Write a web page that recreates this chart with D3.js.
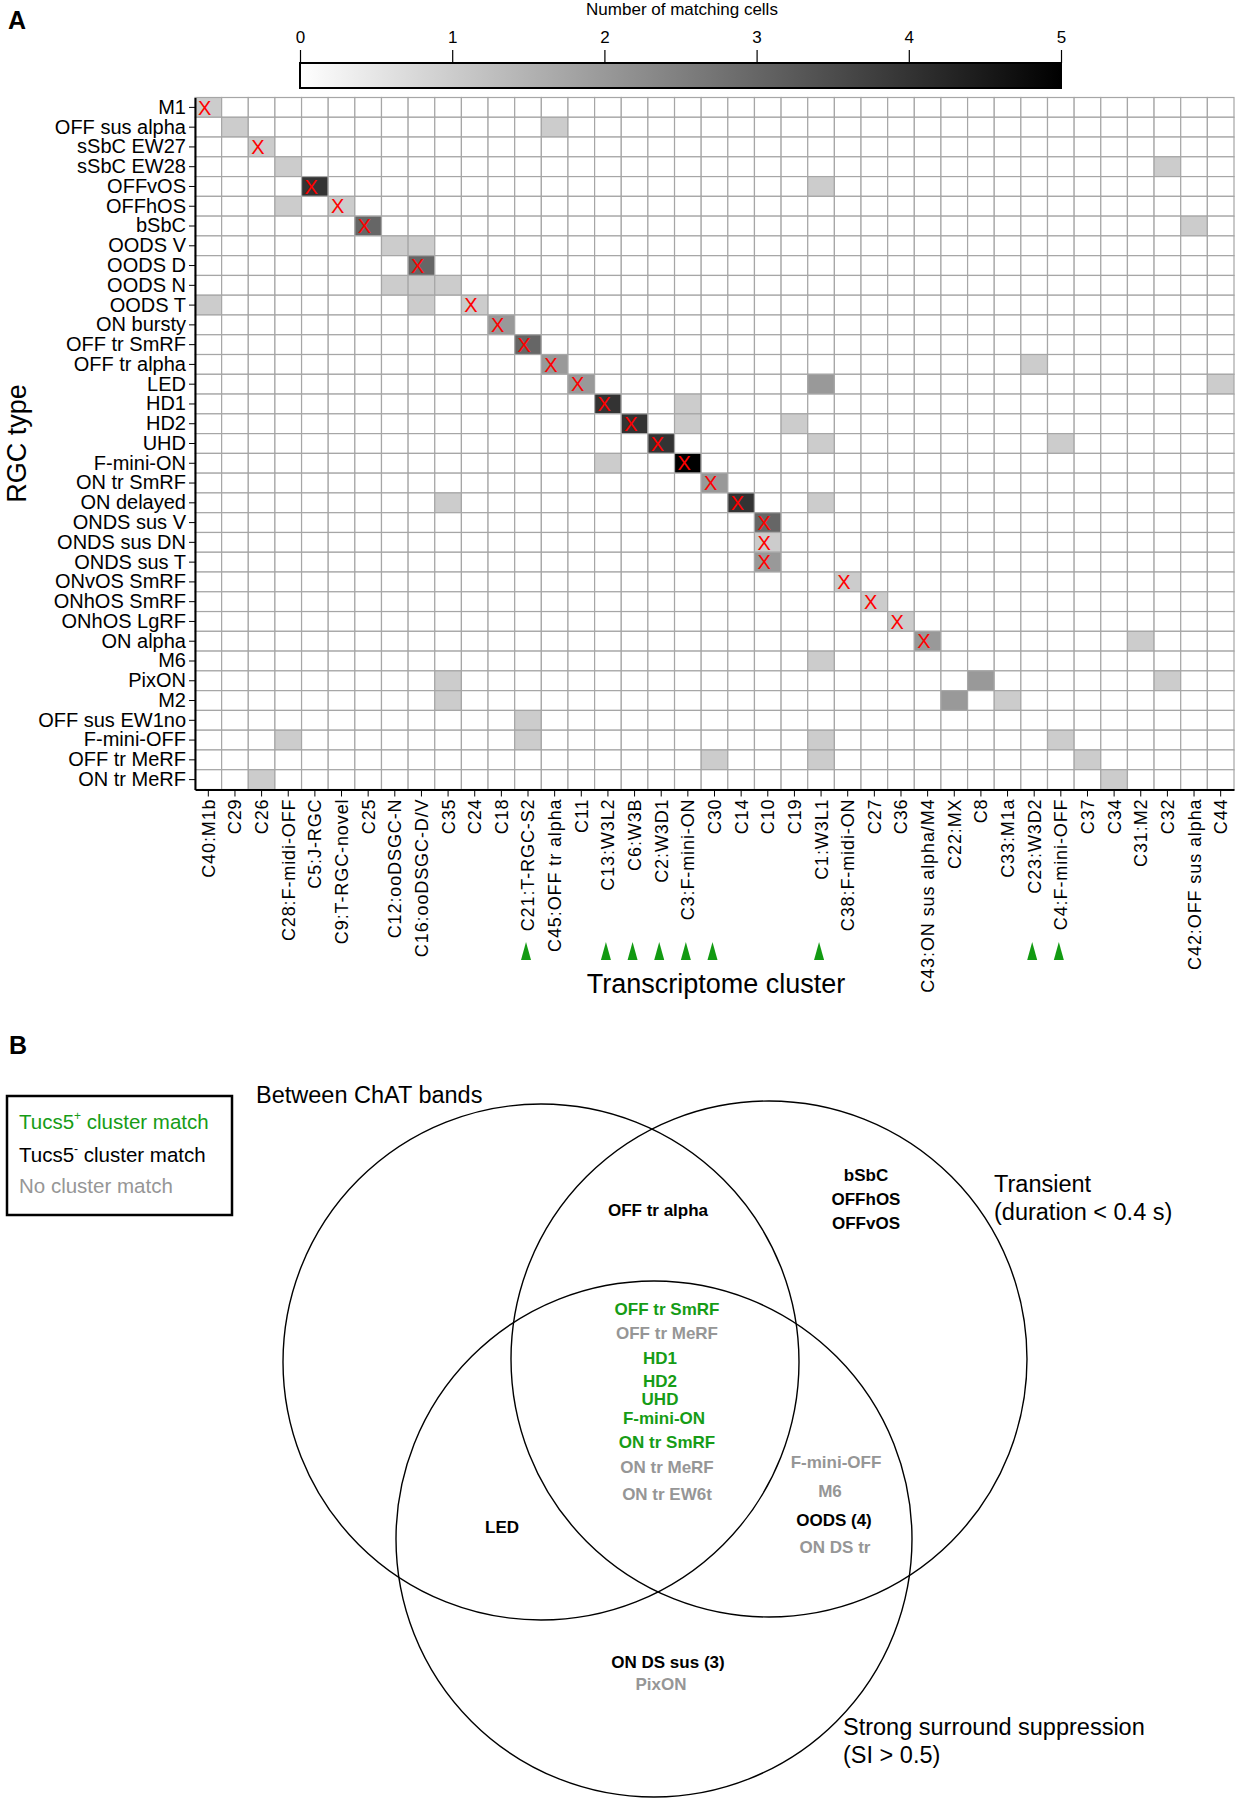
<!DOCTYPE html>
<html><head><meta charset="utf-8">
<script src="https://cdn.jsdelivr.net/npm/d3@7"></script>
<style>
body{margin:0;background:#fff}
svg{display:block}
text{font-family:"Liberation Sans",Arial,Helvetica,sans-serif}
</style>
</head><body>
<svg id="fig" width="1236" height="1800"></svg>
<script>
// ---------------- DATA ----------------
const rgcTypes = ["M1","OFF sus alpha","sSbC EW27","sSbC EW28","OFFvOS","OFFhOS","bSbC","OODS V","OODS D","OODS N","OODS T","ON bursty","OFF tr SmRF","OFF tr alpha","LED","HD1","HD2","UHD","F-mini-ON","ON tr SmRF","ON delayed","ONDS sus V","ONDS sus DN","ONDS sus T","ONvOS SmRF","ONhOS SmRF","ONhOS LgRF","ON alpha","M6","PixON","M2","OFF sus EW1no","F-mini-OFF","OFF tr MeRF","ON tr MeRF"];

const clusters = ["C40:M1b","C29","C26","C28:F-midi-OFF","C5:J-RGC","C9:T-RGC-novel","C25","C12:ooDSGC-N","C16:ooDSGC-D/V","C35","C24","C18","C21:T-RGC-S2","C45:OFF tr alpha","C11","C13:W3L2","C6:W3B","C2:W3D1","C3:F-mini-ON","C30","C14","C10","C19","C1:W3L1","C38:F-midi-ON","C27","C36","C43:ON sus alpha/M4","C22:MX","C8","C33:M1a","C23:W3D2","C4:F-mini-OFF","C37","C34","C31:M2","C32","C42:OFF sus alpha","C44"];

// [RGC type, cluster, number of matching cells]; all other cells are 0
const matchCells = [
["M1","C40:M1b",1],
["OFF sus alpha","C29",1],["OFF sus alpha","C45:OFF tr alpha",1],
["sSbC EW27","C26",1],
["sSbC EW28","C28:F-midi-OFF",1],["sSbC EW28","C32",1],
["OFFvOS","C5:J-RGC",4],["OFFvOS","C1:W3L1",1],
["OFFhOS","C28:F-midi-OFF",1],["OFFhOS","C9:T-RGC-novel",1],
["bSbC","C25",3],["bSbC","C42:OFF sus alpha",1],
["OODS V","C12:ooDSGC-N",1],["OODS V","C16:ooDSGC-D/V",1],
["OODS D","C16:ooDSGC-D/V",3],
["OODS N","C12:ooDSGC-N",1],["OODS N","C16:ooDSGC-D/V",1],["OODS N","C35",1],
["OODS T","C40:M1b",1],["OODS T","C16:ooDSGC-D/V",1],["OODS T","C24",1],
["ON bursty","C18",2],
["OFF tr SmRF","C21:T-RGC-S2",3],
["OFF tr alpha","C45:OFF tr alpha",2],["OFF tr alpha","C23:W3D2",1],
["LED","C11",2],["LED","C1:W3L1",2],["LED","C44",1],
["HD1","C13:W3L2",4],["HD1","C3:F-mini-ON",1],
["HD2","C6:W3B",4],["HD2","C3:F-mini-ON",1],["HD2","C19",1],
["UHD","C2:W3D1",4],["UHD","C1:W3L1",1],["UHD","C4:F-mini-OFF",1],
["F-mini-ON","C13:W3L2",1],["F-mini-ON","C3:F-mini-ON",5],
["ON tr SmRF","C30",2],
["ON delayed","C35",1],["ON delayed","C14",4],["ON delayed","C1:W3L1",1],
["ONDS sus V","C10",3],
["ONDS sus DN","C10",1],
["ONDS sus T","C10",2],
["ONvOS SmRF","C38:F-midi-ON",1],
["ONhOS SmRF","C27",1],
["ONhOS LgRF","C36",1],
["ON alpha","C43:ON sus alpha/M4",2],["ON alpha","C31:M2",1],
["M6","C1:W3L1",1],
["PixON","C35",1],["PixON","C8",2],["PixON","C32",1],
["M2","C35",1],["M2","C22:MX",2],["M2","C33:M1a",1],
["OFF sus EW1no","C21:T-RGC-S2",1],
["F-mini-OFF","C28:F-midi-OFF",1],["F-mini-OFF","C21:T-RGC-S2",1],["F-mini-OFF","C1:W3L1",1],["F-mini-OFF","C4:F-mini-OFF",1],
["OFF tr MeRF","C30",1],["OFF tr MeRF","C1:W3L1",1],["OFF tr MeRF","C37",1],
["ON tr MeRF","C26",1],["ON tr MeRF","C34",1]
];

// best-match marks (red X)
const bestMatches = [
["M1","C40:M1b"],["sSbC EW27","C26"],["OFFvOS","C5:J-RGC"],["OFFhOS","C9:T-RGC-novel"],["bSbC","C25"],
["OODS D","C16:ooDSGC-D/V"],["OODS T","C24"],["ON bursty","C18"],["OFF tr SmRF","C21:T-RGC-S2"],
["OFF tr alpha","C45:OFF tr alpha"],["LED","C11"],["HD1","C13:W3L2"],["HD2","C6:W3B"],["UHD","C2:W3D1"],
["F-mini-ON","C3:F-mini-ON"],["ON tr SmRF","C30"],["ON delayed","C14"],["ONDS sus V","C10"],
["ONDS sus DN","C10"],["ONDS sus T","C10"],["ONvOS SmRF","C38:F-midi-ON"],["ONhOS SmRF","C27"],
["ONhOS LgRF","C36"],["ON alpha","C43:ON sus alpha/M4"]
];

// Tucs5+ clusters (green arrowheads)
const tucs5Clusters = ["C21:T-RGC-S2","C13:W3L2","C6:W3B","C2:W3D1","C3:F-mini-ON","C30","C1:W3L1","C23:W3D2","C4:F-mini-OFF"];

const colorTicks = [0,1,2,3,4,5];

// Venn sets
const vennSets = ["Between ChAT bands","Transient","Strong surround suppression"];
const vennSetSub = ["","(duration < 0.4 s)","(SI > 0.5)"];
// labels per region: [text, group]  group: "pos" Tucs5+ match, "neg" Tucs5- match, "none" no match
const regionChatTrans = [["OFF tr alpha","neg"]];
const regionTransOnly = [["bSbC","neg"],["OFFhOS","neg"],["OFFvOS","neg"]];
const regionAll = [["OFF tr SmRF","pos"],["OFF tr MeRF","none"],["HD1","pos"],["HD2","pos"],["UHD","pos"],["F-mini-ON","pos"],["ON tr SmRF","pos"],["ON tr MeRF","none"],["ON tr EW6t","none"]];
const regionTransSurr = [["F-mini-OFF","none"],["M6","none"],["OODS (4)","neg"],["ON DS tr","none"]];
const regionChatSurr = [["LED","neg"]];
const regionSurrOnly = [["ON DS sus (3)","neg"],["PixON","none"]];
const legendItems = [["Tucs5","+"," cluster match","pos"],["Tucs5","-"," cluster match","neg"],["No cluster match","","","none"]];

// ---------------- LAYOUT ----------------
const svg = d3.select("#fig");
const FONT = '"Liberation Sans",Arial,Helvetica,sans-serif';
const groupColor = {pos:"#169c16", neg:"#000", none:"#969696"};

const hm = {x0:195, x1:1234, y0:97.5, y1:789.5};
const x = d3.scaleBand().domain(clusters).range([hm.x0, hm.x1]);
const y = d3.scaleBand().domain(rgcTypes).range([hm.y0, hm.y1]);
const color = d3.scaleLinear().domain([0,5]).range(["#ffffff","#000000"]);

const lookup = new Map(matchCells.map(d => [d[0]+"|"+d[1], d[2]]));
const allCells = [];
rgcTypes.forEach(r => clusters.forEach(c => allCells.push({r, c, v: lookup.get(r+"|"+c) || 0})));

// panel letter A
svg.append("text").attr("x",8).attr("y",29).attr("font-size",25).attr("font-weight","bold").text("A");

// colorbar
const cb = {x0:300, x1:1061, y0:63, h:25};
const cbScale = d3.scaleLinear().domain([0,5]).range([cb.x0, cb.x1]);
const defs = svg.append("defs");
const grad = defs.append("linearGradient").attr("id","cbgrad");
grad.append("stop").attr("offset","0%").attr("stop-color",color(0));
grad.append("stop").attr("offset","100%").attr("stop-color",color(5));
svg.append("rect").attr("x",cb.x0).attr("y",cb.y0).attr("width",cb.x1-cb.x0).attr("height",cb.h)
  .attr("fill","url(#cbgrad)").attr("stroke","#000").attr("stroke-width",2);
const cbAxis = svg.append("g").attr("transform",`translate(0,${cb.y0})`)
  .call(d3.axisTop(cbScale).tickValues(colorTicks).tickFormat(d3.format("d")).tickSize(13).tickPadding(7));
cbAxis.select(".domain").remove();
cbAxis.selectAll("line").attr("stroke","#000").attr("stroke-width",1.2);
cbAxis.selectAll("text").attr("font-size",17).attr("font-family",FONT).attr("fill","#000");
svg.append("text").attr("x",682).attr("y",15).attr("text-anchor","middle").attr("font-size",17).text("Number of matching cells");

// heatmap cells
svg.append("g").selectAll("rect").data(allCells).join("rect")
  .attr("x", d => x(d.c)).attr("y", d => y(d.r))
  .attr("width", x.bandwidth()).attr("height", y.bandwidth())
  .attr("fill", d => color(d.v)).attr("stroke","#a6a6a6").attr("stroke-width",1.2);

// red X marks
svg.append("g").selectAll("text").data(bestMatches).join("text")
  .attr("x", d => x(d[1]) + x.bandwidth()*0.36)
  .attr("y", d => y(d[0]) + y.bandwidth()/2)
  .attr("dy","0.36em").attr("text-anchor","middle")
  .attr("font-size",20).attr("fill","#ff0000").text("X");

// axes
const yAxis = svg.append("g").attr("transform",`translate(${hm.x0},0)`)
  .call(d3.axisLeft(y).tickSize(6).tickPadding(3).tickSizeOuter(0));
yAxis.select(".domain").attr("stroke","#000").attr("stroke-width",2);
yAxis.selectAll("line").attr("stroke","#000").attr("stroke-width",1);
yAxis.selectAll("text").attr("font-size",20).attr("font-family",FONT).attr("fill","#000");

const xAxis = svg.append("g").attr("transform",`translate(0,${hm.y1})`)
  .call(d3.axisBottom(x).tickSize(7).tickSizeOuter(0));
xAxis.select(".domain").attr("stroke","#000").attr("stroke-width",2);
xAxis.selectAll("line").attr("stroke","#000").attr("stroke-width",1);
xAxis.selectAll("text").attr("font-size",18).attr("font-family",FONT).attr("fill","#000")
  .attr("letter-spacing","0.9px")
  .attr("text-anchor","end").attr("transform","rotate(-90)")
  .attr("x",-9).attr("y",0).attr("dy","0.36em");

// axis titles
svg.append("text").attr("transform",`translate(26,${(hm.y0+hm.y1)/2}) rotate(-90)`)
  .attr("text-anchor","middle").attr("font-size",27).text("RGC type");
svg.append("text").attr("x",716).attr("y",993).attr("text-anchor","middle").attr("font-size",27).text("Transcriptome cluster");

// green arrowheads
svg.append("g").selectAll("path").data(tucs5Clusters).join("path")
  .attr("transform", d => `translate(${x(d)+x.bandwidth()/2 - 2},942)`)
  .attr("d","M0,0 L5,18 L-5,18 Z").attr("fill","#129a12");

// ---------------- PANEL B ----------------
svg.append("text").attr("x",9).attr("y",1054).attr("font-size",25).attr("font-weight","bold").text("B");

// legend
svg.append("rect").attr("x",7).attr("y",1096).attr("width",225).attr("height",119)
  .attr("fill","none").attr("stroke","#000").attr("stroke-width",2.5);
const legBase = [1129,1162,1193];
legendItems.forEach((d,i) => {
  const t = svg.append("text").attr("x",19).attr("y",legBase[i]).attr("font-size",20.5).attr("fill",groupColor[d[3]]);
  t.append("tspan").text(d[0]);
  if (d[1]) t.append("tspan").attr("dy",-9).attr("font-size",12).text(d[1]);
  if (d[2]) t.append("tspan").attr("dy", d[1] ? 9 : 0).text(d[2]);
});

// circles
const circles = [{cx:541, cy:1362}, {cx:769, cy:1359}, {cx:654, cy:1539}];
const R = 258;
svg.append("g").selectAll("circle").data(circles).join("circle")
  .attr("cx", d => d.cx).attr("cy", d => d.cy).attr("r", R)
  .attr("fill","none").attr("stroke","#000").attr("stroke-width",1.4);

// set titles
const setTitlePos = [{x:256, y:1103}, {x:994, y:1192}, {x:843, y:1735}];
vennSets.forEach((s,i) => {
  svg.append("text").attr("x",setTitlePos[i].x).attr("y",setTitlePos[i].y).attr("font-size",23.5).text(s);
  if (vennSetSub[i]) svg.append("text").attr("x",setTitlePos[i].x).attr("y",setTitlePos[i].y+28).attr("font-size",23.5).text(vennSetSub[i]);
});

// region labels (positions are layout)
function placeRegion(items, xs, ys) {
  items.forEach((d,i) => {
    svg.append("text").attr("x", Array.isArray(xs) ? xs[i] : xs).attr("y", ys[i])
      .attr("text-anchor","middle").attr("font-size",17).attr("font-weight","bold")
      .attr("fill", groupColor[d[1]]).text(d[0]);
  });
}
placeRegion(regionChatTrans, 658, [1216]);
placeRegion(regionTransOnly, 866, [1181,1205,1229]);
placeRegion(regionAll, [667,667,660,660,660,664,667,667,667], [1315,1339,1364,1387,1405,1424,1448,1473,1500]);
placeRegion(regionTransSurr, [836,830,834,835], [1468,1497,1526,1553]);
placeRegion(regionChatSurr, 502, [1533]);
placeRegion(regionSurrOnly, [668,661], [1668,1690]);
</script>
</body></html>
